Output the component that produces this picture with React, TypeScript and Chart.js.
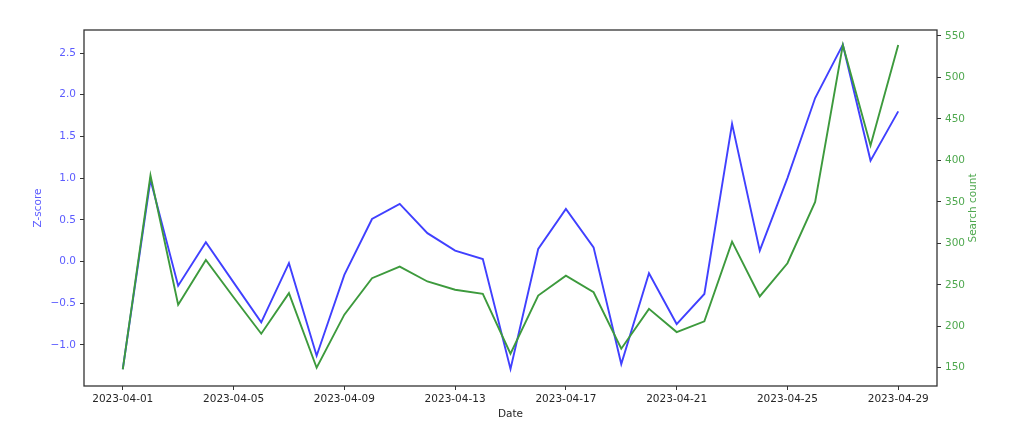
import React, { useEffect, useRef } from 'react';
import { Chart, registerables } from 'chart.js';

Chart.register(...registerables);

const dates = [
  '2023-04-01', '2023-04-02', '2023-04-03', '2023-04-04', '2023-04-05', '2023-04-06', '2023-04-07',
  '2023-04-08', '2023-04-09', '2023-04-10', '2023-04-11', '2023-04-12', '2023-04-13', '2023-04-14',
  '2023-04-15', '2023-04-16', '2023-04-17', '2023-04-18', '2023-04-19', '2023-04-20', '2023-04-21',
  '2023-04-22', '2023-04-23', '2023-04-24', '2023-04-25', '2023-04-26', '2023-04-27', '2023-04-28',
  '2023-04-29',
];

const zScores = [
  -1.29, 0.98, -0.29, 0.23, -0.25, -0.73, -0.02, -1.13, -0.16, 0.51, 0.69, 0.34, 0.13, 0.03,
  -1.29, 0.15, 0.63, 0.17, -1.23, -0.14, -0.75, -0.39, 1.65, 0.13, 1.0, 1.96, 2.6, 1.21, 1.8,
];

const searchCounts = [
  148, 382, 226, 280, 235, 191, 240, 150, 214, 258, 272, 254, 244, 239,
  167, 237, 261, 241, 173, 221, 193, 206, 302, 236, 276, 350, 539, 418, 539,
];

const xTickDays = [0, 4, 8, 12, 16, 20, 24, 28];
const zTicks = [-1.0, -0.5, 0.0, 0.5, 1.0, 1.5, 2.0, 2.5];
const countTicks = [150, 200, 250, 300, 350, 400, 450, 500, 550];

const FONT = 'DejaVu Sans';
const FS = 10.5;
const BLUE_TEXT = '#5c5cff';
const GREEN_TEXT = '#4fa84f';
const DARK = '#333333';

const fmtMinus = (s: string) => s.replace('-', '\u2212');

const boxPlugin = {
  id: 'boxAndRightTitle',
  afterDraw(chart: any) {
    const { ctx, chartArea } = chart;
    ctx.save();
    ctx.strokeStyle = DARK;
    ctx.lineWidth = 1.3;
    ctx.strokeRect(chartArea.left, chartArea.top, chartArea.right - chartArea.left, chartArea.bottom - chartArea.top);
    ctx.translate(973, (chartArea.top + chartArea.bottom) / 2);
    ctx.rotate(-Math.PI / 2);
    ctx.fillStyle = GREEN_TEXT;
    ctx.font = `${FS}px "${FONT}"`;
    ctx.textAlign = 'center';
    ctx.textBaseline = 'middle';
    ctx.fillText('Search count', 0, 0);
    ctx.restore();
  },
};

export default function App() {
  const ref = useRef<HTMLCanvasElement | null>(null);

  useEffect(() => {
    if (!ref.current) return;
    const chart = new Chart(ref.current, {
      type: 'line',
      data: {
        datasets: [
          {
            label: 'Search count',
            data: searchCounts.map((v, i) => ({ x: i, y: v })),
            borderColor: '#3d9a3d',
            borderWidth: 1.9,
            pointRadius: 0,
            tension: 0,
            yAxisID: 'y1',
          },
          {
            label: 'Z-score',
            data: zScores.map((v, i) => ({ x: i, y: v })),
            borderColor: '#4040ff',
            borderWidth: 1.9,
            pointRadius: 0,
            tension: 0,
            yAxisID: 'y',
          },
        ],
      },
      options: {
        responsive: false,
        animation: false,
        layout: { padding: { top: 30, left: 0, right: 0, bottom: 0 } },
        plugins: { legend: { display: false }, tooltip: { enabled: false } },
        scales: {
          x: {
            type: 'linear',
            min: -1.4,
            max: 29.4,
            afterBuildTicks: (s: any) => {
              s.ticks = xTickDays.map((v) => ({ value: v }));
            },
            afterFit: (s: any) => {
              s.height = 50;
            },
            grid: { display: true, drawOnChartArea: false, drawTicks: true, tickLength: 4, tickColor: DARK },
            border: { display: false },
            ticks: {
              autoSkip: false,
              maxRotation: 0,
              padding: 3,
              color: '#262626',
              font: { family: FONT, size: FS },
              callback: (v: any) => dates[Number(v)] ?? '',
            },
            title: {
              display: true,
              text: 'Date',
              color: '#262626',
              font: { family: FONT, size: FS },
              padding: { top: 0, bottom: 15 },
            },
          },
          y: {
            type: 'linear',
            position: 'left',
            min: -1.493,
            max: 2.776,
            afterBuildTicks: (s: any) => {
              s.ticks = zTicks.map((v) => ({ value: v }));
            },
            afterFit: (s: any) => {
              s.width = 84;
            },
            grid: { display: true, drawOnChartArea: false, drawTicks: true, tickLength: 4, tickColor: DARK },
            border: { display: false },
            ticks: {
              padding: 4,
              color: BLUE_TEXT,
              font: { family: FONT, size: FS },
              callback: (v: any) => fmtMinus(Number(v).toFixed(1)),
            },
            title: {
              display: true,
              text: 'Z-score',
              color: BLUE_TEXT,
              font: { family: FONT, size: FS },
              padding: { top: 32, bottom: 0 },
            },
          },
          y1: {
            type: 'linear',
            position: 'right',
            min: 128,
            max: 557.2,
            afterBuildTicks: (s: any) => {
              s.ticks = countTicks.map((v) => ({ value: v }));
            },
            afterFit: (s: any) => {
              s.width = 87;
            },
            grid: { display: true, drawOnChartArea: false, drawTicks: true, tickLength: 4, tickColor: DARK },
            border: { display: false },
            ticks: {
              padding: 4,
              color: GREEN_TEXT,
              font: { family: FONT, size: FS },
              callback: (v: any) => String(v),
            },
          },
        },
      },
      plugins: [boxPlugin],
    } as any);
    return () => chart.destroy();
  }, []);

  return (
    <div style={{ position: 'absolute', left: 0, top: 0, width: 1024, height: 436, background: '#fff' }}>
      <canvas ref={ref} width={1024} height={436} style={{ display: 'block' }} />
    </div>
  );
}
